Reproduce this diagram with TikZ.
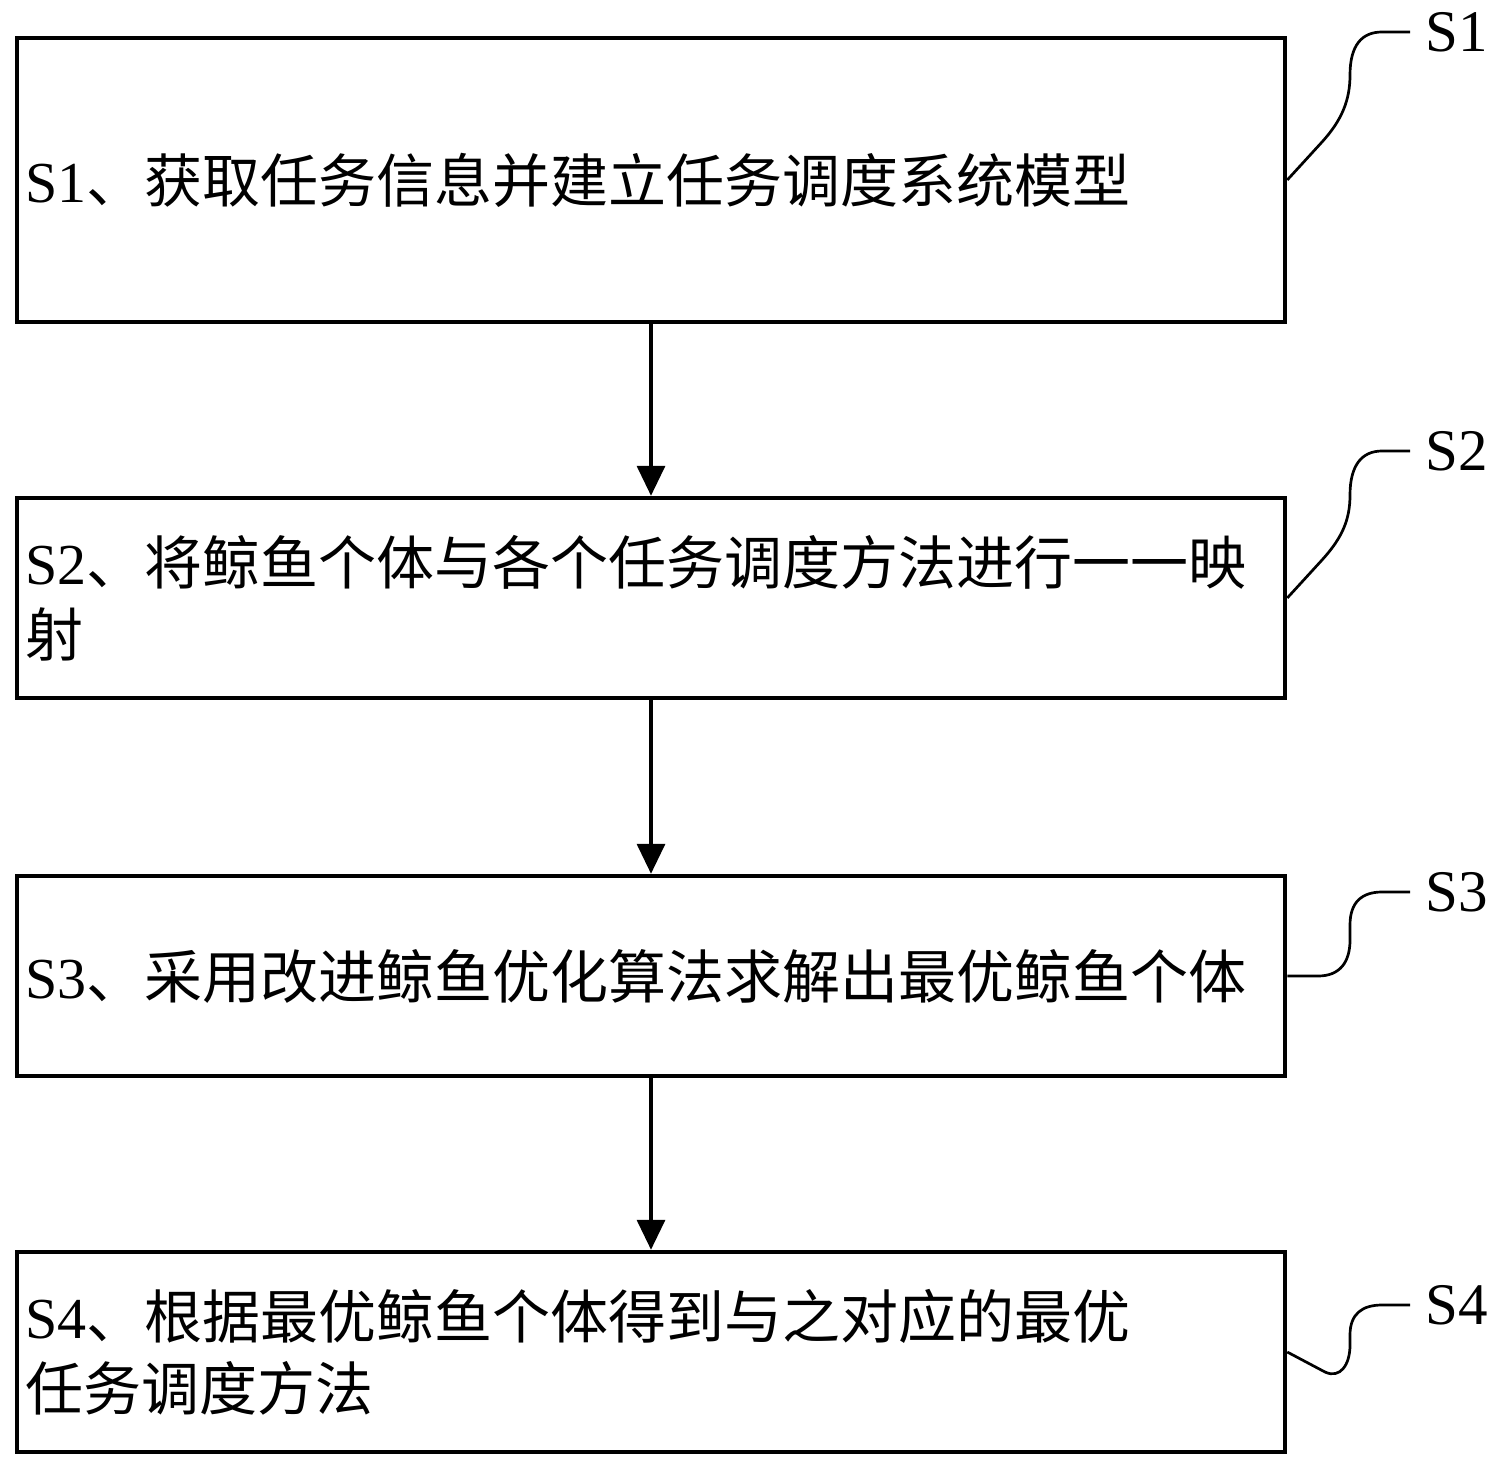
\documentclass[tikz,border=0pt]{standalone}
\usepackage{fontspec}
\setmainfont{Liberation Serif}
\newfontfamily\cjk{Noto Sans CJK SC}
\usetikzlibrary{arrows.meta}
\begin{document}
\begin{tikzpicture}[x=1pt,y=-1pt,
  stepbox/.style={draw, line width=4.5pt, inner xsep=8pt, inner ysep=0pt, text width=1252pt,
    minimum width=1268pt, align=left, font=\fontsize{58}{72}\selectfont, anchor=center},
  lab/.style={font=\fontsize{59}{60}\selectfont, inner xsep=15pt, inner ysep=0pt, anchor=west},
  lead/.style={line width=2.7pt},
  flow/.style={line width=3.5pt, -{Triangle[length=30pt,width=28pt]}}]
\useasboundingbox (0,0) rectangle (1499,1467);
\node[stepbox, minimum height=284pt] (s1) at (651,180) {S1{\cjk 、获取任务信息并建立任务调度系统模型}};
\node[stepbox, minimum height=200pt] (s2) at (651,598) {S2{\cjk 、将鲸鱼个体与各个任务调度方法进行一一映}\\{\cjk 射}};
\node[stepbox, minimum height=200pt] (s3) at (651,976) {S3{\cjk 、采用改进鲸鱼优化算法求解出最优鲸鱼个体}};
\node[stepbox, minimum height=200pt] (s4) at (651,1352) {S4{\cjk 、根据最优鲸鱼个体得到与之对应的最优}\\{\cjk 任务调度方法}};
\node[lab] (l1) at (1410,32) {S1};
\node[lab] (l2) at (1410,451) {S2};
\node[lab] (l3) at (1410,892) {S3};
\node[lab] (l4) at (1410,1305) {S4};
\draw[flow] (s1) -- (s2);
\draw[flow] (s2) -- (s3);
\draw[flow] (s3) -- (s4);
\draw[lead] (s1.east) -- (1322,142) .. controls (1342,120) and (1350,100) .. (1350,75)
  .. controls (1350,45) and (1362,32) .. (1382,32) -- (l1.west);
\draw[lead] (s2.east) -- (1322,560) .. controls (1342,538) and (1350,520) .. (1350,495)
  .. controls (1350,465) and (1362,451) .. (1382,451) -- (l2.west);
\draw[lead] (s3.east) -- (1318,976) .. controls (1340,976) and (1350,962) .. (1350,940)
  -- (1350,925) .. controls (1350,902) and (1362,892) .. (1382,892) -- (l3.west);
\draw[lead] (s4.east) -- (1325,1372) .. controls (1340,1379) and (1350,1365) .. (1350,1345)
  -- (1350,1335) .. controls (1350,1314) and (1362,1305) .. (1382,1305) -- (l4.west);
\end{tikzpicture}
\end{document}
